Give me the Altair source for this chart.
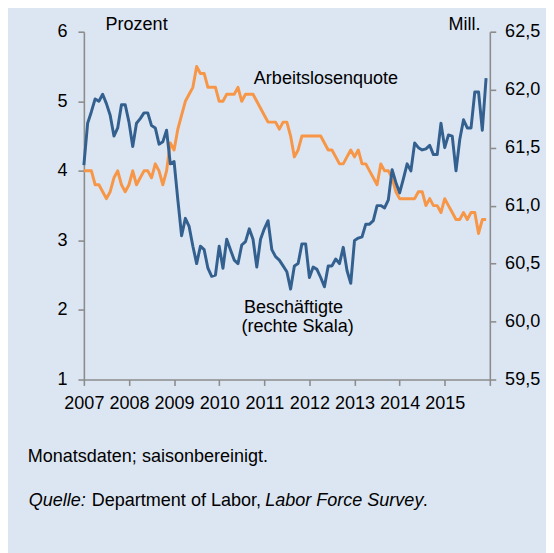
import altair as alt
import pandas as pd

# Monatswerte Jan 2007 - Dez 2015
arbeitslosenquote = [
    4.0, 4.0, 4.0, 3.8, 3.8, 3.7, 3.6, 3.7, 3.9, 4.0, 3.8, 3.7,   # 2007
    3.8, 4.0, 3.8, 3.9, 4.0, 4.0, 3.9, 4.1, 4.0, 3.8, 4.0, 4.4,   # 2008
    4.3, 4.6, 4.8, 5.0, 5.1, 5.2, 5.5, 5.4, 5.4, 5.2, 5.2, 5.2,   # 2009
    5.0, 5.0, 5.1, 5.1, 5.1, 5.2, 5.0, 5.1, 5.1, 5.1, 5.0, 4.9,   # 2010
    4.8, 4.7, 4.7, 4.7, 4.6, 4.7, 4.7, 4.5, 4.2, 4.3, 4.5, 4.5,   # 2011
    4.5, 4.5, 4.5, 4.5, 4.4, 4.3, 4.3, 4.2, 4.1, 4.1, 4.2, 4.3,   # 2012
    4.2, 4.3, 4.1, 4.1, 4.0, 3.9, 3.8, 4.1, 4.0, 4.0, 3.9, 3.7,   # 2013
    3.6, 3.6, 3.6, 3.6, 3.6, 3.7, 3.7, 3.5, 3.6, 3.5, 3.5, 3.4,   # 2014
    3.6, 3.5, 3.4, 3.3, 3.3, 3.4, 3.3, 3.4, 3.4, 3.1, 3.3, 3.3,   # 2015
]

beschaeftigte = [
    61.35, 61.71, 61.81, 61.92, 61.90, 61.96, 61.88, 61.78, 61.60, 61.67, 61.87, 61.87,  # 2007
    61.72, 61.51, 61.71, 61.75, 61.80, 61.80, 61.69, 61.67, 61.53, 61.55, 61.65, 61.36,  # 2008
    61.38, 61.05, 60.74, 60.89, 60.82, 60.65, 60.50, 60.65, 60.62, 60.46, 60.39, 60.40,  # 2009
    60.65, 60.46, 60.71, 60.62, 60.53, 60.50, 60.66, 60.69, 60.80, 60.71, 60.47, 60.71,  # 2010
    60.80, 60.87, 60.62, 60.56, 60.53, 60.48, 60.43, 60.28, 60.48, 60.50, 60.67, 60.67,  # 2011
    60.38, 60.47, 60.45, 60.38, 60.30, 60.48, 60.48, 60.54, 60.50, 60.64, 60.44, 60.33,  # 2012
    60.70, 60.72, 60.73, 60.84, 60.84, 60.87, 61.00, 61.00, 60.98, 61.05, 61.31, 61.20,  # 2013
    61.11, 61.23, 61.36, 61.30, 61.54, 61.50, 61.48, 61.49, 61.52, 61.44, 61.44, 61.71,  # 2014
    61.50, 61.61, 61.60, 61.30, 61.57, 61.74, 61.67, 61.67, 61.98, 61.98, 61.65, 62.10,  # 2015
]

jahre = list(range(2007, 2017))
links_ticks = [1, 2, 3, 4, 5, 6]
rechts_ticks = [59.5, 60.0, 60.5, 61.0, 61.5, 62.0, 62.5]

df = pd.DataFrame({
    "monat": list(range(len(arbeitslosenquote))),
    "quote": arbeitslosenquote,
    "besch": beschaeftigte,
})

FONT = "Liberation Sans"
FS = 18.3
AXC = "#8c8c8c"
ORANGE = "#F79646"
BLUE = "#33608F"

axis_common = dict(
    domainColor=AXC, tickColor=AXC, domainWidth=1.6, tickWidth=1.6, tickSize=6,
    labelFont=FONT, labelFontSize=FS, labelColor="#000000", grid=False, title=None,
)

x_enc = alt.X(
    "monat:Q",
    scale=alt.Scale(domain=[0, 108], nice=False, zero=False),
    axis=alt.Axis(
        values=[(j - 2007) * 12 for j in jahre],
        labelExpr="datum.value < 108 ? format(2007 + datum.value / 12, 'd') : ''",
        labelPadding=9, labelFlush=False, labelOverlap=False,
        **axis_common,
    ),
)

orange = alt.Chart(df).mark_line(color=ORANGE, strokeWidth=3, strokeJoin="round").encode(
    x=x_enc,
    y=alt.Y(
        "quote:Q",
        scale=alt.Scale(domain=[1, 6], nice=False, zero=False),
        axis=alt.Axis(orient="left", values=links_ticks, labelPadding=11, format="d", **axis_common),
    ),
)

blue = alt.Chart(df).mark_line(color=BLUE, strokeWidth=3, strokeJoin="round").encode(
    x=x_enc,
    y=alt.Y(
        "besch:Q",
        scale=alt.Scale(domain=[59.5, 62.5], nice=False, zero=False),
        axis=alt.Axis(
            orient="right", values=rechts_ticks, labelPadding=9,
            labelExpr="replace(format(datum.value, '.1f'), '.', ',')",
            **axis_common,
        ),
    ),
)


def txt(s, x, y, style="normal"):
    return alt.Chart(alt.Data(values=[{}])).mark_text(
        text=s, align="left", baseline="alphabetic", font=FONT, fontSize=FS,
        fontStyle=style, color="#000000",
    ).encode(x=alt.value(x), y=alt.value(y))


texts = [
    txt("Prozent", 22, -1.5),
    txt("Mill.", 370, -1.5),
    txt("Arbeitslosenquote", 172.5, 53),
    txt("Beschäftigte", 162.5, 285),
    txt("(rechte Skala)", 160, 305),
    txt("Monatsdaten; saisonbereinigt.", -57, 437),
    txt("Quelle:", -56, 481.5, "italic"),
    txt("Department of Labor,", 8, 481.5),
    txt("Labor Force Survey", 184, 481.5, "italic"),
    txt(".", 344, 481.5),
]

chart = alt.layer(orange, blue, *texts).resolve_scale(y="independent").properties(
    width=412,
    height=353,
    autosize=alt.AutoSizeParams(type="none"),
    padding={"left": 77, "top": 20, "right": 57, "bottom": 172},
    background="#DCE6F2",
).configure_view(strokeWidth=0)

chart.save("out.html", embed_options={"renderer": "svg", "actions": False})
